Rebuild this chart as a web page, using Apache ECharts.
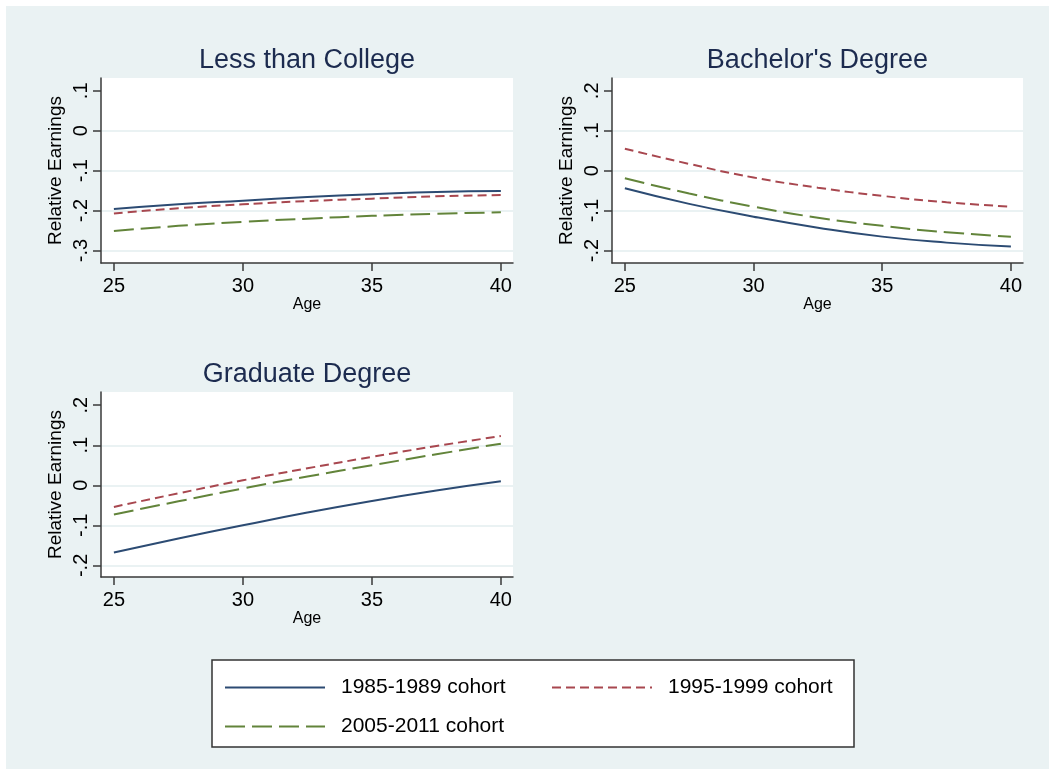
<!DOCTYPE html>
<html>
<head>
<meta charset="utf-8">
<title>Relative Earnings by Age</title>
<script src="https://cdn.jsdelivr.net/npm/echarts@6/dist/echarts.min.js"></script>
<style>
  html, body { margin: 0; padding: 0; background: #ffffff; }
  #chart { width: 1049px; height: 769px; background: #eaf2f3; box-shadow: inset 6px 6px 0 #ffffff; }
</style>
</head>
<body>
<div id="chart"></div>
<script>
// ---- data ----
const ages = [25, 27.5, 30, 32.5, 35, 37.5, 40];
const cohorts = ['1985-1989 cohort', '1995-1999 cohort', '2005-2011 cohort'];
const panelTitles = ['Less than College', "Bachelor's Degree", 'Graduate Degree'];

const lessCollege1985 = [-0.196, -0.184, -0.175, -0.166, -0.159, -0.153, -0.151];
const lessCollege1995 = [-0.207, -0.194, -0.184, -0.176, -0.170, -0.164, -0.161];
const lessCollege2005 = [-0.251, -0.238, -0.228, -0.220, -0.213, -0.208, -0.204];

const bachelor1985 = [-0.044, -0.083, -0.115, -0.1425, -0.165, -0.180, -0.190];
const bachelor1995 = [0.055, 0.017, -0.017, -0.0425, -0.063, -0.079, -0.090];
const bachelor2005 = [-0.019, -0.057, -0.090, -0.1175, -0.138, -0.154, -0.165];

const graduate1985 = [-0.168, -0.133, -0.100, -0.068, -0.039, -0.013, 0.010];
const graduate1995 = [-0.054, -0.020, 0.0125, 0.0425, 0.071, 0.098, 0.123];
const graduate2005 = [-0.073, -0.040, -0.008, 0.022, 0.050, 0.0775, 0.104];

const ageTicks = [25, 30, 35, 40];
const lessCollegeTicks = [-0.3, -0.2, -0.1, 0, 0.1];
const lessCollegeTickLabels = ['-.3', '-.2', '-.1', '0', '.1'];
const degreeTicks = [-0.2, -0.1, 0, 0.1, 0.2];
const degreeTickLabels = ['-.2', '-.1', '0', '.1', '.2'];

// ---- styling ----
const FONT = '"Liberation Sans", Arial, Helvetica, sans-serif';
const cohortColors = ['#2c4b73', '#a8474f', '#62843a'];
const cohortDash = ['solid', [9, 5], [20, 7]];
const AXIS_COLOR = '#3a3a3a';
const BG = '#eaf2f3';

const panels = [
  { title: panelTitles[0], grid: { left: 101, top: 78, width: 412, height: 185 },
    yMin: -0.331, yMax: 0.132, ticks: lessCollegeTicks, labels: lessCollegeTickLabels,
    series: [lessCollege1985, lessCollege1995, lessCollege2005] },
  { title: panelTitles[1], grid: { left: 612, top: 78, width: 411, height: 185 },
    yMin: -0.231, yMax: 0.232, ticks: degreeTicks, labels: degreeTickLabels,
    series: [bachelor1985, bachelor1995, bachelor2005] },
  { title: panelTitles[2], grid: { left: 101, top: 392, width: 412, height: 185 },
    yMin: -0.229, yMax: 0.233, ticks: degreeTicks, labels: degreeTickLabels,
    series: [graduate1985, graduate1995, graduate2005] }
];

const grids = [], xAxes = [], yAxes = [], series = [], graphics = [];

panels.forEach((p, gi) => {
  grids.push(Object.assign({ show: true, backgroundColor: '#ffffff', borderWidth: 0 }, p.grid));

  xAxes.push({
    type: 'value', gridIndex: gi, min: 24.5, max: 40.47,
    name: 'Age', nameLocation: 'middle', nameGap: 34,
    nameTextStyle: { fontSize: 16, color: '#000', fontFamily: FONT },
    axisLine: { onZero: false, lineStyle: { color: AXIS_COLOR, width: 1.5 } },
    axisTick: { length: 8, customValues: ageTicks, lineStyle: { color: AXIS_COLOR, width: 1.5 } },
    axisLabel: { customValues: ageTicks, fontSize: 20, margin: 13, color: '#000', fontFamily: FONT },
    splitLine: { show: false }
  });

  const labelFor = v => {
    const i = p.ticks.findIndex(t => Math.abs(t - v) < 1e-9);
    return i >= 0 ? p.labels[i] : '';
  };

  // main value axis
  yAxes.push({
    type: 'value', gridIndex: gi, min: p.yMin, max: p.yMax, position: 'left',
    name: 'Relative Earnings', nameLocation: 'middle', nameGap: 36,
    nameTextStyle: { fontSize: 19, color: '#000', fontFamily: FONT },
    axisLine: { onZero: false, lineStyle: { color: AXIS_COLOR, width: 1.5 } },
    axisTick: { length: 8, customValues: p.ticks, lineStyle: { color: AXIS_COLOR, width: 1.5 } },
    axisLabel: { customValues: p.ticks, rotate: 90, fontSize: 20, margin: 10, color: '#000',
                 fontFamily: FONT, formatter: labelFor },
    splitLine: { show: false }
  });
  // grid lines (all ticks except the topmost)
  yAxes.push({
    type: 'value', gridIndex: gi, min: p.yMin, max: p.yMax, position: 'left',
    axisLine: { show: false },
    axisTick: { show: false, customValues: p.ticks.slice(0, -1) },
    axisLabel: { show: false },
    splitLine: { show: true, lineStyle: { color: BG, width: 2 } }
  });

  p.series.forEach((vals, k) => {
    series.push({
      name: cohorts[k], type: 'line', xAxisIndex: gi, yAxisIndex: gi * 2,
      data: ages.map((a, i) => [a, vals[i]]),
      smooth: true, symbol: 'none', showSymbol: false, z: 5,
      lineStyle: { color: cohortColors[k], width: 2, type: cohortDash[k] },
      itemStyle: { color: cohortColors[k] }
    });
  });

  graphics.push({
    type: 'text', x: p.grid.left + p.grid.width / 2, y: p.grid.top - 17,
    style: { text: p.title, fill: '#1c2b4f', fontSize: 27, fontFamily: FONT,
             align: 'center', verticalAlign: 'middle' }
  });
});

// legend frame
graphics.push({
  type: 'rect', z: 0, shape: { x: 212, y: 660, width: 642, height: 87 },
  style: { fill: '#ffffff', stroke: '#333333', lineWidth: 1.5 }
});

const legendBase = {
  orient: 'vertical', top: 677, padding: 0,
  itemWidth: 100, itemHeight: 20, itemGap: 18,
  itemStyle: { opacity: 0 },
  lineStyle: { width: 2 },
  textStyle: { fontSize: 21, color: '#000', fontFamily: FONT, padding: [0, 0, 0, 11] }
};

const chart = echarts.init(document.getElementById('chart'), null, { renderer: 'canvas' });
chart.setOption({
  backgroundColor: 'transparent',
  animation: false,
  grid: grids,
  xAxis: xAxes,
  yAxis: yAxes,
  series: series,
  graphic: graphics,
  legend: [
    Object.assign({}, legendBase, { left: 224, data: [cohorts[0], cohorts[2]] }),
    Object.assign({}, legendBase, { left: 551, data: [cohorts[1]] })
  ]
});
</script>
</body>
</html>
